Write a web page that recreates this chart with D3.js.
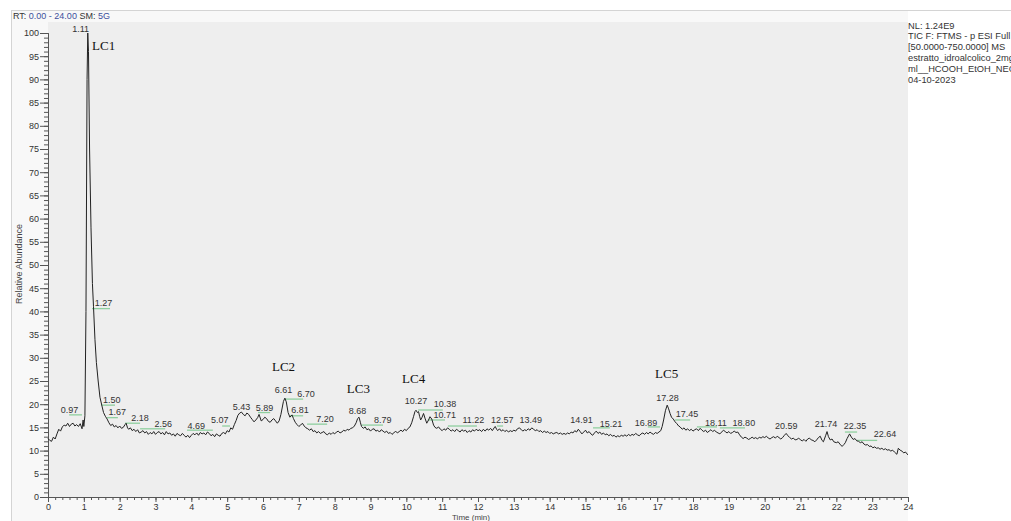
<!DOCTYPE html>
<html lang="en">
<head>
<meta charset="UTF-8"/>
<title>TIC chromatogram</title>
<script src="https://d3js.org/d3.v7.min.js"></script>
<style>
	body { margin: 0; background-color: white; }
	svg { display: block; }
	.tick text { font-family: "Liberation Sans", Arial, sans-serif; font-size: 9px; fill: #333; }
</style>
</head>
<body>
<script>
	var w = 1011;
	var h = 521;

	// [time (min), relative abundance]
	var ticTrace = [
		[0.00,12.6],[0.05,12.2],[0.10,12.0],[0.15,12.9],[0.20,12.5],[0.25,13.6],[0.30,14.6],[0.35,14.2],[0.40,15.1],[0.45,15.5],
		[0.50,15.3],[0.55,15.9],[0.60,15.2],[0.65,15.7],[0.70,15.9],[0.75,15.3],[0.80,15.6],[0.85,15.2],[0.90,15.8],[0.95,14.7],
		[0.98,16.6],[1.00,15.2],[1.03,17.5],[1.06,40],[1.09,90],[1.11,100],[1.13,96],[1.16,75],[1.20,58],[1.24,46],
		[1.27,41],[1.31,34],[1.35,29],[1.40,25],[1.45,21.5],[1.50,19.8],[1.55,18.2],[1.60,17.4],[1.65,16.8],[1.70,16.0],
		[1.75,15.4],[1.80,15.7],[1.85,15.1],[1.90,15.4],[1.95,14.9],[2.00,15.3],[2.05,14.8],[2.10,15.0],[2.15,15.6],[2.18,15.9],
		[2.22,14.9],[2.25,14.6],[2.30,14.9],[2.35,14.3],[2.40,14.6],[2.45,14.1],[2.50,14.5],[2.55,13.8],[2.60,14.0],[2.65,14.3],
		[2.70,13.8],[2.75,14.1],[2.80,13.5],[2.85,13.9],[2.90,13.6],[2.95,14.1],[3.00,13.5],[3.05,13.9],[3.10,14.1],[3.15,13.6],
		[3.20,13.9],[3.25,13.4],[3.30,14.1],[3.35,13.6],[3.40,13.8],[3.45,13.3],[3.50,13.6],[3.55,13.1],[3.60,13.7],[3.65,13.4],
		[3.70,13.2],[3.75,13.7],[3.80,13.3],[3.85,12.9],[3.90,13.3],[3.95,12.8],[4.00,13.3],[4.05,13.7],[4.10,13.4],[4.15,13.8],
		[4.20,13.3],[4.25,13.9],[4.30,13.6],[4.35,13.8],[4.40,13.4],[4.45,14.0],[4.50,13.7],[4.55,13.2],[4.60,13.5],[4.65,13.0],
		[4.70,13.6],[4.75,13.3],[4.80,13.1],[4.85,13.7],[4.90,13.9],[4.95,13.6],[5.00,14.3],[5.05,14.0],[5.10,14.9],[5.15,14.6],
		[5.20,15.6],[5.25,16.5],[5.30,17.6],[5.35,18.1],[5.40,18.3],[5.45,17.8],[5.50,17.5],[5.55,18.1],[5.60,17.8],[5.65,17.2],
		[5.70,16.7],[5.75,16.2],[5.80,16.6],[5.85,17.1],[5.89,17.8],[5.95,16.4],[6.00,16.7],[6.05,17.2],[6.10,16.9],[6.15,16.3],
		[6.20,16.1],[6.25,16.6],[6.30,16.9],[6.35,16.4],[6.40,15.9],[6.45,16.4],[6.50,17.8],[6.57,20.6],[6.61,21.3],[6.65,20.5],
		[6.70,18.2],[6.75,17.2],[6.81,17.7],[6.85,16.9],[6.90,16.1],[6.95,15.6],[7.00,15.2],[7.05,15.5],[7.10,15.9],[7.15,15.3],
		[7.20,14.9],[7.25,14.7],[7.30,14.4],[7.35,14.7],[7.40,14.1],[7.45,14.3],[7.50,13.8],[7.55,14.1],[7.60,13.7],[7.65,13.9],
		[7.70,14.1],[7.75,13.6],[7.80,13.4],[7.85,13.8],[7.90,13.5],[7.95,13.9],[8.00,13.6],[8.05,14.0],[8.10,14.2],[8.15,13.8],
		[8.20,14.0],[8.25,14.4],[8.30,14.2],[8.35,14.6],[8.40,14.4],[8.45,14.8],[8.50,14.9],[8.55,15.3],[8.60,16.0],[8.64,16.9],
		[8.68,17.2],[8.72,16.0],[8.75,15.2],[8.80,14.8],[8.85,15.1],[8.90,14.5],[8.95,14.7],[9.00,14.2],[9.05,14.6],[9.10,14.7],
		[9.15,14.2],[9.20,14.4],[9.25,14.0],[9.30,14.5],[9.35,14.2],[9.40,13.9],[9.45,14.2],[9.50,13.7],[9.55,13.9],[9.60,13.5],
		[9.65,13.8],[9.70,14.2],[9.75,13.8],[9.80,14.1],[9.85,14.4],[9.90,14.1],[9.95,14.6],[10.00,14.3],[10.05,14.8],[10.10,15.1],
		[10.15,16.0],[10.20,17.3],[10.24,18.4],[10.27,18.7],[10.31,18.2],[10.34,18.4],[10.37,17.4],[10.40,16.6],[10.44,17.2],[10.48,18.0],
		[10.52,17.0],[10.57,15.9],[10.62,16.6],[10.66,17.3],[10.71,16.8],[10.76,15.5],[10.80,15.0],[10.85,14.8],[10.90,15.1],[10.95,14.6],
		[11.00,14.3],[11.05,14.7],[11.10,14.4],[11.15,14.9],[11.20,14.6],[11.25,14.2],[11.30,14.5],[11.35,14.1],[11.40,14.6],[11.45,14.3],
		[11.50,14.0],[11.55,14.5],[11.60,14.2],[11.65,14.4],[11.70,13.9],[11.75,14.3],[11.80,14.0],[11.85,14.5],[11.90,14.2],[11.95,14.6],
		[12.00,14.3],[12.05,14.5],[12.10,14.1],[12.15,14.6],[12.20,14.2],[12.25,14.7],[12.30,14.4],[12.35,14.8],[12.40,14.3],[12.45,14.9],
		[12.48,15.2],[12.52,14.6],[12.55,14.3],[12.60,14.7],[12.65,14.2],[12.70,14.5],[12.75,14.1],[12.80,14.4],[12.85,14.0],[12.90,14.3],
		[12.95,14.1],[13.00,14.4],[13.05,14.2],[13.10,14.7],[13.15,14.9],[13.20,14.6],[13.25,14.2],[13.30,14.5],[13.35,14.3],[13.40,14.7],
		[13.45,14.4],[13.50,14.9],[13.55,14.6],[13.60,14.3],[13.65,14.5],[13.70,14.1],[13.75,14.3],[13.80,13.9],[13.85,14.2],[13.90,13.9],
		[13.95,14.1],[14.00,13.7],[14.05,13.9],[14.10,13.6],[14.15,13.8],[14.20,13.9],[14.25,13.6],[14.30,13.8],[14.35,13.5],[14.40,13.7],
		[14.45,13.5],[14.50,13.8],[14.55,13.6],[14.60,14.0],[14.65,13.8],[14.70,14.3],[14.75,14.0],[14.80,14.6],[14.85,14.1],[14.90,13.6],
		[14.95,14.0],[15.00,14.4],[15.05,13.8],[15.10,14.1],[15.15,13.6],[15.20,13.3],[15.25,13.8],[15.30,14.2],[15.35,13.7],[15.40,14.0],
		[15.45,13.5],[15.50,13.8],[15.55,13.4],[15.60,13.6],[15.65,13.2],[15.70,13.5],[15.75,13.1],[15.80,13.3],[15.85,12.9],[15.90,13.2],
		[15.95,13.0],[16.00,13.3],[16.05,13.1],[16.10,13.4],[16.15,13.1],[16.20,13.5],[16.25,13.2],[16.30,13.5],[16.35,13.3],[16.40,13.7],
		[16.45,13.4],[16.50,13.2],[16.55,13.6],[16.60,13.8],[16.65,13.5],[16.70,13.9],[16.75,13.6],[16.80,14.0],[16.85,13.7],[16.90,13.5],
		[16.95,13.9],[17.00,13.7],[17.05,14.0],[17.10,14.3],[17.14,15.2],[17.18,16.6],[17.23,18.6],[17.28,19.8],[17.32,19.0],[17.36,18.0],
		[17.40,17.2],[17.45,16.8],[17.50,16.2],[17.55,15.8],[17.60,15.3],[17.64,15.1],[17.70,14.6],[17.75,14.9],[17.80,14.4],[17.85,14.7],
		[17.90,14.3],[17.95,14.6],[18.00,14.2],[18.05,14.5],[18.10,14.7],[18.15,14.3],[18.20,14.8],[18.25,14.4],[18.30,14.1],[18.35,14.4],
		[18.40,13.9],[18.45,14.2],[18.50,14.5],[18.55,14.1],[18.60,14.4],[18.65,14.0],[18.70,13.8],[18.75,13.6],[18.80,14.0],[18.85,14.4],
		[18.90,14.1],[18.95,13.8],[19.00,14.1],[19.05,13.7],[19.10,13.9],[19.15,14.2],[19.20,13.9],[19.25,14.0],[19.30,13.4],[19.35,12.9],
		[19.40,12.6],[19.45,12.9],[19.50,12.7],[19.55,12.4],[19.60,12.6],[19.65,12.9],[19.70,12.6],[19.75,12.8],[19.80,12.5],[19.85,12.9],
		[19.90,12.7],[19.95,13.0],[20.00,12.8],[20.05,13.1],[20.10,12.7],[20.15,12.5],[20.20,12.8],[20.25,13.0],[20.30,12.7],[20.35,13.1],
		[20.40,12.8],[20.45,12.5],[20.50,12.8],[20.55,13.3],[20.60,13.7],[20.65,13.2],[20.70,12.8],[20.75,12.5],[20.80,12.7],[20.85,12.3],
		[20.90,12.4],[20.95,12.7],[21.00,12.3],[21.05,12.1],[21.10,12.4],[21.15,12.0],[21.20,12.5],[21.25,12.7],[21.30,12.3],[21.35,12.2],
		[21.40,11.9],[21.45,12.3],[21.50,12.8],[21.55,13.1],[21.60,12.2],[21.64,11.9],[21.70,13.2],[21.74,14.1],[21.78,13.0],[21.83,12.3],
		[21.88,12.5],[21.93,11.9],[22.00,11.7],[22.05,11.9],[22.10,11.4],[22.16,10.9],[22.21,11.3],[22.25,11.7],[22.30,12.6],[22.37,13.6],
		[22.42,12.9],[22.47,12.4],[22.52,12.6],[22.57,12.1],[22.62,12.0],[22.67,11.7],[22.72,11.9],[22.77,11.4],[22.82,11.2],[22.87,11.3],
		[22.92,10.9],[22.97,11.0],[23.02,10.6],[23.07,10.8],[23.12,10.5],[23.17,10.6],[23.22,10.3],[23.27,10.5],[23.32,10.2],[23.37,10.4],
		[23.42,10.1],[23.47,10.2],[23.52,9.9],[23.57,10.1],[23.62,9.7],[23.69,9.2],[23.73,10.5],[23.78,10.1],[23.83,9.9],[23.88,9.5],
		[23.93,9.7],[23.97,9.3],[24.00,9.1]
	];

	// retention time labels: text, label centre time, label baseline abundance
	var peakNames = ["1.11","1.27","0.97","1.50","1.67","2.18","2.56","4.69","5.07","5.43","5.89","6.61","6.70","6.81","7.20",
		"8.68","8.79","10.27","10.38","10.71","11.22","12.57","13.49","14.91","15.21","16.89","17.28","17.45","18.11","18.80",
		"20.59","21.74","22.35","22.64"];
	var peakLabelT = [0.91,1.55,0.60,1.78,1.93,2.57,3.22,4.14,4.79,5.40,6.04,6.57,7.20,7.03,7.73,
		8.64,9.34,10.27,11.08,11.07,11.87,12.68,13.47,14.89,15.71,16.69,17.29,17.83,18.64,19.42,
		20.60,21.71,22.52,23.36];
	var peakLabelV = [100.2,41.2,18.2,20.3,17.7,16.4,15.1,14.7,15.9,18.75,18.6,22.4,21.55,18.1,16.2,
		17.9,15.95,20.0,19.4,17.0,15.95,15.95,15.95,15.95,15.1,15.3,20.7,17.2,15.3,15.3,
		14.7,15.1,14.7,12.9];

	// green label baselines: start time, end time, abundance level
	var greenStart = [0.59,1.23,1.48,1.65,2.15,2.57,3.88,4.86,5.86,6.61,6.75,7.23,8.76,10.33,10.60,11.16,12.53,15.21,16.74,17.50,18.11,18.75,22.24,22.58];
	var greenEnd   = [0.95,1.73,1.87,1.95,2.57,3.27,4.60,5.08,6.20,7.12,7.12,7.79,9.35,11.02,11.08,11.97,12.70,15.68,17.08,17.92,18.67,19.45,22.58,23.14];
	var greenLevel = [17.7,40.6,19.8,17.1,15.9,14.7,14.4,15.3,18.2,21.1,17.5,15.7,15.5,18.75,16.6,15.3,15.3,14.9,15.1,16.6,15.1,14.9,14.0,12.2];

	// compound annotations
	var lcNames = ["LC1","LC2","LC3","LC4","LC5"];
	var lcT = [1.23,6.25,8.34,9.88,16.94];
	var lcV = [96.3,27.2,22.4,24.6,25.6];

	var infoLines = ["NL: 1.24E9","TIC F: FTMS - p ESI Full ms","[50.0000-750.0000]  MS","estratto_idroalcolico_2mg",
		"ml__HCOOH_EtOH_NEG","04-10-2023"];

	var xScale = d3.scaleLinear().domain([0, 24]).range([48, 908]);
	var yScale = d3.scaleLinear().domain([0, 100]).range([497, 33]);

	var svg = d3.select("body").append("svg")
		.attr("width", w)
		.attr("height", h);

	// window frame
	svg.append("rect").attr("x", 11).attr("y", 10).attr("width", w - 11).attr("height", h - 10)
		.attr("fill", "#f8f8f8");
	svg.append("line").attr("x1", 11).attr("x2", w).attr("y1", 10.5).attr("y2", 10.5)
		.attr("stroke", "#d4d4d4");
	svg.append("line").attr("x1", 11.5).attr("x2", 11.5).attr("y1", 10).attr("y2", h)
		.attr("stroke", "#d4d4d4");
	svg.append("rect").attr("x", 908).attr("y", 11).attr("width", w - 908).attr("height", h - 11)
		.attr("fill", "#ffffff");

	// plot area
	svg.append("rect")
		.attr("x", xScale(0)).attr("y", 22)
		.attr("width", xScale(24) - xScale(0)).attr("height", yScale(0) - 22)
		.attr("fill", "#eeeeee");

	// header
	var head = svg.append("text").attr("x", 13).attr("y", 19)
		.style("font-family", "Liberation Sans, Arial, sans-serif").style("font-size", "9px");
	head.append("tspan").attr("fill", "#333").text("RT: ");
	head.append("tspan").attr("fill", "#3d4f9c").text("0.00 - 24.00");
	head.append("tspan").attr("fill", "#333").text("   SM: ");
	head.append("tspan").attr("fill", "#3d4f9c").text("5G");

	svg.selectAll(".info")
		.data(infoLines)
		.enter()
		.append("text")
		.attr("class", "info")
		.attr("x", 908)
		.attr("y", function(d, i) { return 28.5 + i * 10.9; })
		.attr("fill", "#333")
		.style("font-family", "Liberation Sans, Arial, sans-serif")
		.style("font-size", "9.3px")
		.text(function(d) { return d; });

	// axes: minor then major ticks
	var yMinor = svg.append("g").attr("transform", "translate(" + xScale(0) + ",0)")
		.call(d3.axisLeft(yScale).tickValues(d3.range(0, 101, 1)).tickSize(4).tickFormat(""));
	var yMajor = svg.append("g").attr("transform", "translate(" + xScale(0) + ",0)")
		.call(d3.axisLeft(yScale).tickValues(d3.range(0, 101, 5)).tickSize(8).tickPadding(1));
	var xMinor = svg.append("g").attr("transform", "translate(0," + yScale(0) + ")")
		.call(d3.axisBottom(xScale).tickValues(d3.range(0, 24.01, 0.2)).tickSize(3).tickFormat(""));
	var xMajor = svg.append("g").attr("transform", "translate(0," + yScale(0) + ")")
		.call(d3.axisBottom(xScale).tickValues(d3.range(0, 25, 1)).tickSize(5).tickPadding(2));
	[yMinor, yMajor, xMinor, xMajor].forEach(function(g) {
		g.selectAll("path, line").attr("stroke", "#555");
	});

	svg.append("text")
		.attr("transform", "translate(22,264) rotate(-90)")
		.attr("text-anchor", "middle")
		.attr("fill", "#444")
		.style("font-family", "Liberation Sans, Arial, sans-serif")
		.style("font-size", "9px")
		.text("Relative Abundance");
	svg.append("text")
		.attr("x", 471).attr("y", 520)
		.attr("text-anchor", "middle")
		.attr("fill", "#444")
		.style("font-family", "Liberation Sans, Arial, sans-serif")
		.style("font-size", "8px")
		.text("Time (min)");

	// green label lines
	svg.selectAll(".green")
		.data(greenStart)
		.enter()
		.append("line")
		.attr("class", "green")
		.attr("x1", function(d) { return xScale(d); })
		.attr("x2", function(d, i) { return xScale(greenEnd[i]); })
		.attr("y1", function(d, i) { return yScale(greenLevel[i]); })
		.attr("y2", function(d, i) { return yScale(greenLevel[i]); })
		.attr("stroke", "#8fcf9f")
		.attr("stroke-width", 1.3);

	// chromatogram trace
	var line = d3.line()
		.x(function(d) { return xScale(d[0]); })
		.y(function(d) { return yScale(d[1]); });
	svg.append("path")
		.datum(ticTrace)
		.attr("d", line)
		.attr("fill", "none")
		.attr("stroke", "#222")
		.attr("stroke-width", 1);

	// retention time labels
	svg.selectAll(".peak")
		.data(peakNames)
		.enter()
		.append("text")
		.attr("class", "peak")
		.attr("x", function(d, i) { return xScale(peakLabelT[i]); })
		.attr("y", function(d, i) { return yScale(peakLabelV[i]); })
		.attr("text-anchor", "middle")
		.attr("fill", "#333")
		.style("font-family", "Liberation Sans, Arial, sans-serif")
		.style("font-size", "9px")
		.text(function(d) { return d; });

	// LC annotations
	svg.selectAll(".lc")
		.data(lcNames)
		.enter()
		.append("text")
		.attr("class", "lc")
		.attr("x", function(d, i) { return xScale(lcT[i]); })
		.attr("y", function(d, i) { return yScale(lcV[i]); })
		.attr("fill", "#111")
		.style("font-family", "Liberation Serif, Times New Roman, serif")
		.style("font-size", "13px")
		.text(function(d) { return d; });
</script>
</body>
</html>
